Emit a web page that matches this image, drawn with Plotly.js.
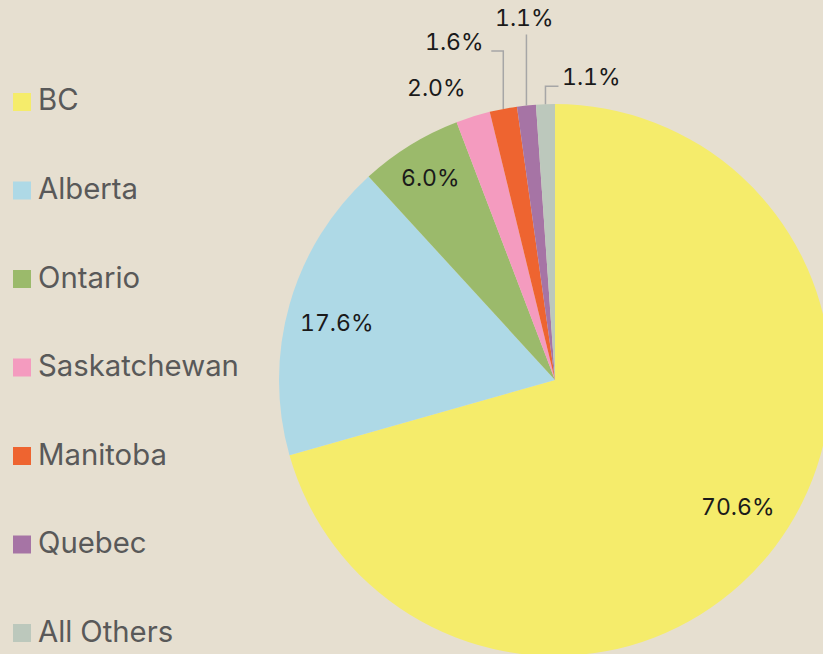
<!DOCTYPE html>
<html>
<head>
<meta charset="utf-8">
<script src="https://cdn.plot.ly/plotly-3.0.1.min.js"></script>
<style>
html,body{margin:0;padding:0;overflow:hidden;background:#E6DFD0;}
#chart{position:absolute;left:0;top:0;width:840px;height:660px;}
.annotation-text{font-feature-settings:"tnum" 1;font-variant-numeric:tabular-nums;}
</style>
</head>
<body>
<div id="chart"></div>
<script>
// ---- data ----
const labels = ['BC', 'Alberta', 'Ontario', 'Saskatchewan', 'Manitoba', 'Quebec', 'All Others'];
const values = [70.6, 17.6, 6.0, 2.0, 1.6, 1.1, 1.1];
const colors = ['#F5EC6B', '#AED9E6', '#9BBA6B', '#F49BBF', '#EE6430', '#A674A5', '#BCC8BC'];

// ---- layout / style ----
const W = 840, H = 660;
const CX = 555, CY = 380, R = 276;
const BG = '#E6DFD0';
const LABEL_FONT = {family: 'Inter, "Open Sans", sans-serif', size: 23, color: '#1a1a1a'};
const LEGEND_FONT = {family: 'Inter, "Open Sans", sans-serif', size: 29.3, color: '#595959'};
// per-slice label placement style
const labelStyle = [
  {mode: 'inside', f: 0.81, ox: 5, oy: -8},
  {mode: 'inside', f: 0.82, ox: 0, oy: 5},
  {mode: 'inside', f: 0.86, ox: 0, oy: 0},
  {mode: 'free', tx: -37, ty: -28, anchor: 'center'},
  {mode: 'leader', dy: -58, dx: -12, tx: -5, ty: -9, anchor: 'right'},
  {mode: 'leader', dy: -71, dx: 0, tx: -2, ty: -16, anchor: 'center'},
  {mode: 'leader', dy: -18, dx: 13, tx: 2, ty: -9, anchor: 'left'}
];
const LEG_X = 13, LEG_BOX = 18, LEG_Y0 = 102, LEG_STEP = 88.5;

const px = x => x / W;
const py = y => 1 - y / H;

const total = values.reduce((a, b) => a + b, 0);
const annotations = [];
const shapes = [];
let cum = 0;
values.forEach((v, i) => {
  const a0 = cum / total * 2 * Math.PI;
  cum += v;
  const a1 = cum / total * 2 * Math.PI;
  const mid = (a0 + a1) / 2;
  const sx = Math.sin(mid), cy = Math.cos(mid);
  const st = labelStyle[i];
  const txt = v.toFixed(1) + '%';
  let lx, ly, anchor = 'center';
  if (st.mode === 'inside') {
    lx = CX + sx * R * st.f + st.ox; ly = CY - cy * R * st.f + st.oy;
  } else {
    const rx = CX + sx * R, ry = CY - cy * R;
    if (st.mode === 'free') {
      lx = rx + st.tx; ly = ry + st.ty;
    } else {
      const ex = rx, ey = ry + st.dy;
      const fx = ex + st.dx, fy = ey;
      let path = `M ${px(rx)} ${py(ry)} L ${px(ex)} ${py(ey)}`;
      if (st.dx !== 0) path += ` L ${px(fx)} ${py(fy)}`;
      shapes.push({type: 'path', xref: 'paper', yref: 'paper', path: path,
        line: {color: '#A6A6A6', width: 1.5}});
      lx = fx + st.tx; ly = fy + st.ty;
    }
    anchor = st.anchor;
  }
  annotations.push({xref: 'paper', yref: 'paper', x: px(lx), y: py(ly), text: txt,
    showarrow: false, xanchor: anchor, yanchor: 'middle', font: LABEL_FONT});
});

// custom legend
labels.forEach((lab, i) => {
  const yc = LEG_Y0 + i * LEG_STEP;
  shapes.push({type: 'rect', xref: 'paper', yref: 'paper',
    x0: px(LEG_X), x1: px(LEG_X + LEG_BOX), y0: py(yc - LEG_BOX / 2), y1: py(yc + LEG_BOX / 2),
    fillcolor: colors[i], line: {width: 0}});
  annotations.push({xref: 'paper', yref: 'paper', x: px(LEG_X + LEG_BOX + 5), y: py(yc - 2),
    text: lab, showarrow: false, xanchor: 'left', yanchor: 'middle', font: LEGEND_FONT});
});

const trace = {
  type: 'pie',
  labels: labels,
  values: values,
  sort: false,
  direction: 'clockwise',
  rotation: 0,
  marker: {colors: colors, line: {width: 0}},
  textinfo: 'none',
  hoverinfo: 'skip',
  showlegend: false,
  domain: {x: [(CX - R) / W, (CX + R) / W], y: [1 - (CY + R) / H, 1 - (CY - R) / H]}
};

const layout = {
  width: W, height: H,
  margin: {l: 0, r: 0, t: 0, b: 0},
  paper_bgcolor: BG, plot_bgcolor: BG,
  showlegend: false,
  annotations: annotations,
  shapes: shapes
};

Plotly.newPlot('chart', [trace], layout, {displayModeBar: false, staticPlot: true});
</script>
</body>
</html>
